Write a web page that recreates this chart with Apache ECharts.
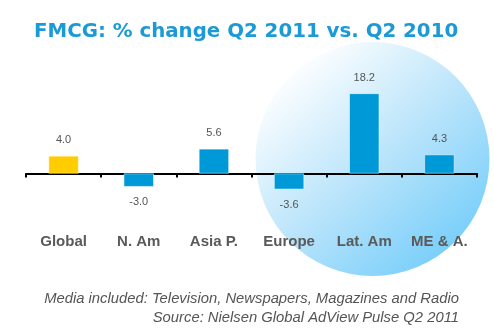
<!DOCTYPE html>
<html>
<head>
<meta charset="utf-8">
<script src="https://cdn.jsdelivr.net/npm/echarts@6/dist/echarts.min.js"></script>
<style>
html,body{margin:0;padding:0;background:#fff;}
#c{width:494px;height:333px;}
</style>
</head>
<body>
<div id="c"></div>
<script>
var categories = ['Global', 'N. Am', 'Asia P.', 'Europe', 'Lat. Am', 'ME & A.'];
var values = [4.0, -3.0, 5.6, -3.6, 18.2, 4.3];
var barColors = ['#ffcc00', '#0099d8', '#0099d8', '#0099d8', '#0099d8', '#0099d8'];
var titleText = 'FMCG: % change Q2 2011 vs. Q2 2010';
var footLines = ['Media included: Television, Newspapers, Magazines and Radio', 'Source: Nielsen Global AdView Pulse Q2 2011'];

var chart = echarts.init(document.getElementById('c'), null, {renderer: 'canvas'});
var data = values.map(function (v, i) {
  return {
    value: v,
    itemStyle: {color: barColors[i]},
    label: {position: v >= 0 ? 'top' : 'bottom'}
  };
});
chart.setOption({
  backgroundColor: '#ffffff',
  animation: false,
  graphic: [
    {
      type: 'circle', z: -10, silent: true,
      shape: {cx: 372.5, cy: 159, r: 117},
      style: {
        fill: new echarts.graphic.LinearGradient(0.15, 0.1, 0.9, 0.95, [
          {offset: 0, color: '#ffffff'},
          {offset: 0.45, color: '#bfe6fb'},
          {offset: 1, color: '#6ecbfa'}
        ])
      }
    },
    {
      type: 'text', left: 34, top: 22,
      style: {text: titleText, fill: '#1b9ad6', font: 'bold 19.8px "DejaVu Sans"'}
    },
    {
      type: 'text', right: 35, top: 291,
      style: {text: footLines[0], fill: '#555555', font: 'italic 14.8px "Liberation Sans"', align: 'right'}
    },
    {
      type: 'text', right: 35, top: 310,
      style: {text: footLines[1], fill: '#555555', font: 'italic 14.8px "Liberation Sans"', align: 'right'}
    }
  ],
  grid: {left: 26, right: 17, top: 85.5, height: 132},
  xAxis: {
    type: 'category',
    data: categories,
    axisLine: {onZero: true, lineStyle: {color: '#000000', width: 2}},
    axisTick: {show: true, length: 4, inside: false, lineStyle: {color: '#000', width: 2}},
    axisLabel: {
      margin: 17,
      color: '#5a5a5a',
      fontFamily: 'Liberation Sans',
      fontWeight: 'bold',
      fontSize: 15
    }
  },
  yAxis: {
    type: 'value', min: -10, max: 20, show: false,
    splitLine: {show: false}
  },
  series: [{
    type: 'bar',
    data: data,
    barWidth: 30,
    itemStyle: {borderColor: '#ffffff', borderWidth: 0.5},
    label: {
      show: true,
      distance: 10,
      color: '#555555',
      fontSize: 11,
      fontFamily: 'Liberation Sans',
      formatter: function (p) { return p.value.toFixed(1); }
    }
  }]
});
</script>
</body>
</html>
